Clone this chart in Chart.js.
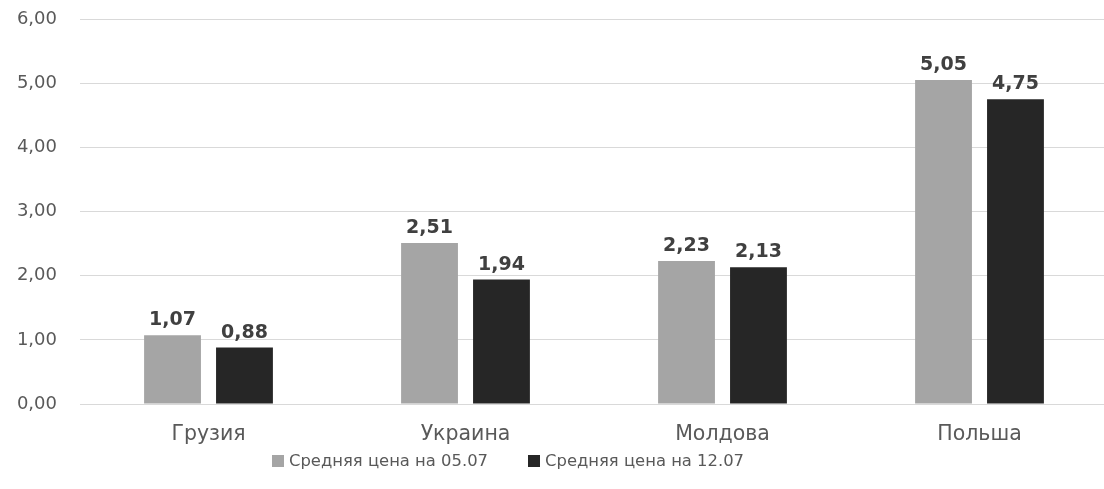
<!DOCTYPE html>
<html>
<head>
<meta charset="utf-8">
<script src="https://cdn.jsdelivr.net/npm/chart.js@4/dist/chart.umd.min.js"></script>
<style>
  html, body { margin:0; padding:0; background:#fff; overflow:hidden; width:1104px; height:489px; }
  #wrap { position:relative; width:1110px; height:489px; }
  #legend { position:absolute; top:451px; left:272px; display:flex; align-items:center; font-family:"DejaVu Sans", sans-serif; font-size:16.4px; color:#595959; white-space:nowrap; }
  #legend .item { display:flex; align-items:center; margin-right:40px; }
  #legend .sw { width:12px; height:12px; margin-right:5px; }
</style>
</head>
<body>
<div id="wrap">
  <canvas id="c" width="1110" height="489"></canvas>
  <div id="legend"></div>
</div>
<script>
const categories = ["Грузия", "Украина", "Молдова", "Польша"];
const seriesNames = ["Средняя цена на 05.07", "Средняя цена на 12.07"];
const values0507 = [1.07, 2.51, 2.23, 5.05];
const values1207 = [0.88, 1.94, 2.13, 4.75];
const yTicks = [0, 1, 2, 3, 4, 5, 6];
const colors = ["#a5a5a5", "#262626"];

const fmt = v => v.toFixed(2).replace('.', ',');

const labelPlugin = {
  id: 'barLabels',
  afterDatasetsDraw(chart) {
    const ctx = chart.ctx;
    ctx.save();
    ctx.font = 'bold 19px "DejaVu Sans", sans-serif';
    ctx.fillStyle = '#404040';
    ctx.textAlign = 'center';
    ctx.textBaseline = 'alphabetic';
    chart.data.datasets.forEach((ds, i) => {
      const meta = chart.getDatasetMeta(i);
      meta.data.forEach((bar, j) => {
        ctx.fillText(fmt(ds.data[j]), bar.x, bar.y - 10);
      });
    });
    ctx.restore();
  }
};

new Chart(document.getElementById('c'), {
  type: 'bar',
  data: {
    labels: categories,
    datasets: [
      { label: seriesNames[0], data: values0507, backgroundColor: colors[0], categoryPercentage: 0.56, barPercentage: 0.79 },
      { label: seriesNames[1], data: values1207, backgroundColor: colors[1], categoryPercentage: 0.56, barPercentage: 0.79 }
    ]
  },
  options: {
    responsive: false,
    animation: false,
    layout: { padding: { top: 19, right: 2, left: 0, bottom: 0 } },
    plugins: { legend: { display: false }, tooltip: { enabled: false } },
    scales: {
      x: {
        grid: { display: false, drawTicks: false },
        border: { display: false },
        ticks: { color: '#595959', font: { family: '"DejaVu Sans", sans-serif', size: 20.5 }, padding: 18 },
        afterFit: s => { s.height = 85; }
      },
      y: {
        min: 0, max: 6,
        afterBuildTicks: s => { s.ticks = yTicks.map(v => ({ value: v })); },
        grid: { color: '#d9d9d9', drawTicks: false, lineWidth: 1 },
        border: { display: false },
        ticks: { color: '#595959', font: { family: '"DejaVu Sans", sans-serif', size: 18 }, padding: 23, callback: v => fmt(v) },
        afterFit: s => { s.width = 80; s.paddingTop = 0; s.paddingBottom = 0; }
      }
    }
  },
  plugins: [labelPlugin]
});

const lg = document.getElementById('legend');
seriesNames.forEach((n, i) => {
  const it = document.createElement('div'); it.className = 'item';
  const sw = document.createElement('div'); sw.className = 'sw'; sw.style.background = colors[i];
  const tx = document.createElement('span'); tx.textContent = n;
  it.appendChild(sw); it.appendChild(tx); lg.appendChild(it);
});
</script>
</body>
</html>
